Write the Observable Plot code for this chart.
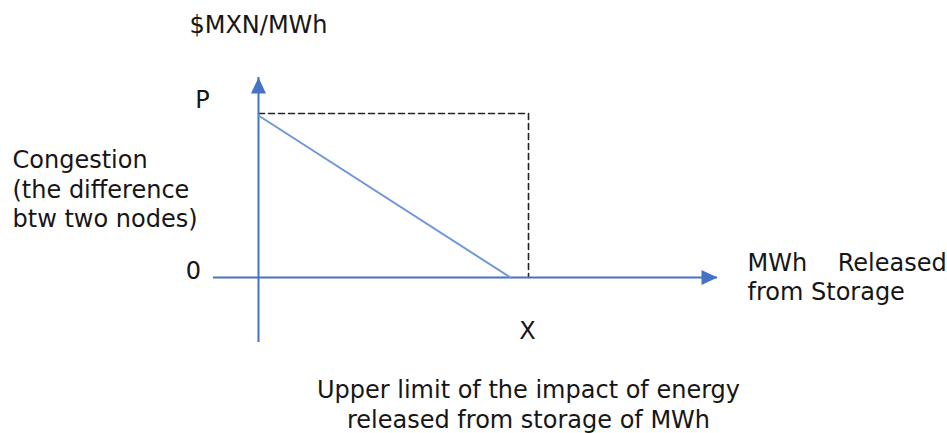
<!DOCTYPE html>
<html>
<head>
<meta charset="utf-8">
<script src="https://cdn.jsdelivr.net/npm/d3@7"></script>
<script src="https://cdn.jsdelivr.net/npm/@observablehq/plot@0.6"></script>
<style>
  html, body { margin: 0; padding: 0; background: #fff; }
  #chart svg { display: block; }
</style>
</head>
<body>
<div id="chart"></div>
<script>
// ---- data ----
// Conceptual units: X = 1 on the horizontal axis, P = 1 on the vertical axis
const congestionX = [0, 0.933];
const congestionY = [0.988, 0];
const boundX = [0, 1, 1];
const boundY = [1, 1, 0];
const axisExtentX = [-0.167, 1.7];   // horizontal axis from / to (arrow tip)
const axisExtentY = [-0.396, 1.22];  // vertical axis from / to (arrow tip)
const tickLabelP = "P";
const tickLabelZero = "0";
const tickLabelX = "X";
const yAxisTitle = "$MXN/MWh";
const yAxisNote = "Congestion\n(the difference\nbtw two nodes)";
const xAxisTitle = "MWh    Released\nfrom Storage";
const caption = "Upper limit of the impact of energy\nreleased from storage of MWh";

const congestion = congestionX.map((x, i) => ({x, y: congestionY[i]}));
const bound = boundX.map((x, i) => ({x, y: boundY[i]}));

const W = 947, H = 433;
// pixel placement of origin and of (X, P)
const x0 = 258, xX = 528, y0 = 277, yP = 113;
const kx = xX - x0, ky = y0 - yP;

const blue = "#4472C4";
const lineBlue = "#6F97DB";
const ink = "#161616";
const font = "DejaVu Sans";
const fs = 24;

const arrowHead = {
  draw(context, l, r) {
    context.moveTo(0, 0);
    context.lineTo(-7.5, l);
    context.lineTo(7.5, l);
    context.closePath();
  }
};

const chart = Plot.plot({
  width: W,
  height: H,
  margin: 0,
  style: {fontFamily: font, background: "#fff"},
  x: {domain: [-x0 / kx, (W - x0) / kx], range: [0, W], axis: null},
  y: {domain: [-(H - y0) / ky, y0 / ky], range: [H, 0], axis: null},
  marks: [
    // dashed bound
    Plot.line(bound, {x: "x", y: "y", stroke: "#222", strokeWidth: 1.6, strokeDasharray: "6,4"}),
    // axes
    Plot.ruleX([0], {y1: axisExtentY[0], y2: axisExtentY[1], stroke: blue, strokeWidth: 2}),
    Plot.ruleY([0], {x1: axisExtentX[0], x2: axisExtentX[1], stroke: blue, strokeWidth: 2}),
    Plot.vector([0], {x: 0, y: axisExtentY[1], length: 16, rotate: 0, shape: arrowHead, fill: blue, stroke: "none", anchor: "start"}),
    Plot.vector([0], {x: axisExtentX[1], y: 0, length: 16, rotate: 90, shape: arrowHead, fill: blue, stroke: "none", anchor: "start"}),
    // congestion line
    Plot.line(congestion, {x: "x", y: "y", stroke: lineBlue, strokeWidth: 2}),
    // labels
    Plot.text([tickLabelP], {x: boundX[0], y: boundY[0], text: d => d, dx: -56, dy: -13, fontSize: fs, fill: ink}),
    Plot.text([tickLabelZero], {x: 0, y: 0, text: d => d, dx: -65, dy: -6, fontSize: fs, fill: ink}),
    Plot.text([tickLabelX], {x: boundX[1], y: 0, text: d => d, dx: -1, dy: 54, fontSize: fs, fill: ink}),
    Plot.text([yAxisTitle], {x: 0, y: boundY[0], text: d => d, dy: -88, fontSize: fs, fill: ink}),
    Plot.text([yAxisNote], {x: 0, y: 0.5, text: d => d, dx: -246, dy: -7, textAnchor: "start", lineAnchor: "middle", lineHeight: 1.23, fontSize: fs, fill: ink}),
    Plot.text([xAxisTitle], {x: axisExtentX[1], y: 0, text: d => d, dx: 30, dy: -1, textAnchor: "start", lineAnchor: "middle", lineHeight: 1.17, fontSize: fs, fill: ink}),
    Plot.text([caption], {x: 1, y: 0, text: d => d, dy: 126, textAnchor: "middle", lineAnchor: "middle", lineHeight: 1.25, fontSize: fs, fill: ink})
  ]
});
document.getElementById("chart").append(chart);
</script>
</body>
</html>
